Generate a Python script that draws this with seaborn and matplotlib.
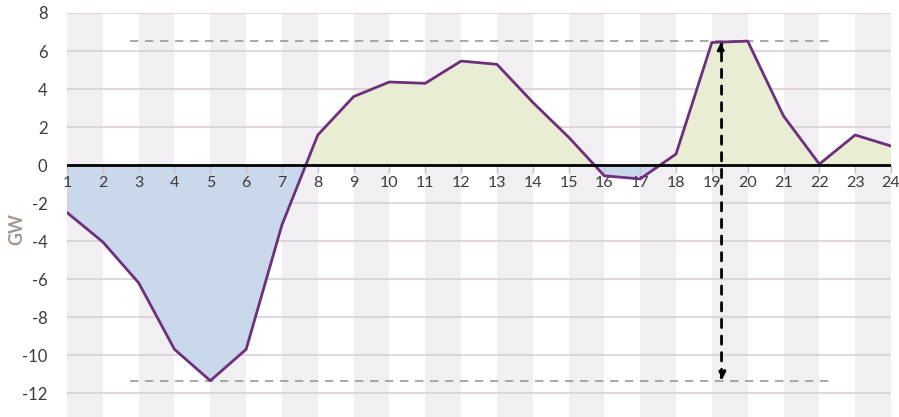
import numpy as np
import pandas as pd
import seaborn as sns
import matplotlib.pyplot as plt

# hourly net position, GW
hours = list(range(1, 25))
gw = [-2.5, -4.05, -6.2, -9.7, -11.35, -9.7, -3.15, 1.58, 3.6, 4.37, 4.3, 5.47,
      5.3, 3.3, 1.47, -0.57, -0.73, 0.58, 6.45, 6.52, 2.58, 0.05, 1.58, 1.0]
y_ticks = [-12, -10, -8, -6, -4, -2, 0, 2, 4, 6, 8]

# range markers
range_top = 6.52
range_bottom = -11.35
range_x = [2.75, 22.4]
arrow_hour = 19.27

line_col = '#6e2f7c'
pos_fill = '#e8edd3'
neg_fill = '#c9d8ea'
band_col = '#f1eff1'
grid_col = '#d9d0d4'
text_col = '#3c3c3c'

sns.set_theme(style='white')
plt.rcParams['font.family'] = ['Lato', 'DejaVu Sans']

df = pd.DataFrame({'hour': hours, 'gw': gw})

fig = plt.figure(figsize=(8.99, 4.17), dpi=100)
ax = fig.add_axes([67 / 899, 0, (891 - 67) / 899, 1 - 13 / 417])

# alternating vertical bands
for h in hours[:-1:2]:
    ax.axvspan(h, h + 1, color=band_col, lw=0, zorder=0)

for yv in y_ticks:
    if yv != 0:
        ax.axhline(yv, color=grid_col, lw=1.2, zorder=1)

x = np.array(hours, dtype=float)
y = np.array(gw)
ax.fill_between(x, y, 0, where=y >= 0, interpolate=True, color=pos_fill, lw=0, zorder=2)
ax.fill_between(x, y, 0, where=y <= 0, interpolate=True, color=neg_fill, lw=0, zorder=2)

sns.lineplot(data=df, x='hour', y='gw', color=line_col, lw=2, ax=ax, zorder=4)

ax.axhline(0, color='black', lw=2, zorder=5)

# dashed range lines and arrow
for yv in [range_top, range_bottom]:
    ax.plot(range_x, [yv, yv], color='#9a9a9a', lw=1.2, ls=(0, (5, 4)), zorder=3)
ax.annotate('', xy=(arrow_hour, range_top), xytext=(arrow_hour, range_bottom),
            arrowprops=dict(arrowstyle='<|-|>', color='black', lw=2, ls=(0, (3, 3)),
                            mutation_scale=12, shrinkA=0, shrinkB=0), zorder=6)

ax.set_axisbelow(False)
ax.set_xlim(1, 24)
ax.set_ylim(-13.26, 8)
ax.set_yticks(y_ticks)
ax.set_yticklabels([str(v) for v in y_ticks], fontsize=12, color=text_col)
ax.tick_params(axis='y', length=0, pad=14)

ax.spines['bottom'].set_position(('data', 0))
ax.spines['bottom'].set_visible(False)
for s in ['top', 'left', 'right']:
    ax.spines[s].set_visible(False)
ax.set_xticks(hours)
ax.set_xticklabels([str(h) for h in hours], fontsize=11.5, color=text_col)
ax.tick_params(axis='x', direction='out', length=6, width=1, color='#c8bfc4', pad=2)
ax.xaxis.set_ticks_position('bottom')

ax.set_xlabel('')
ax.set_ylabel('GW', fontsize=13, color='#a39792', fontweight='bold')
ax.yaxis.set_label_coords(-0.05, 0.465)

fig.savefig('out.png', dpi=100)
